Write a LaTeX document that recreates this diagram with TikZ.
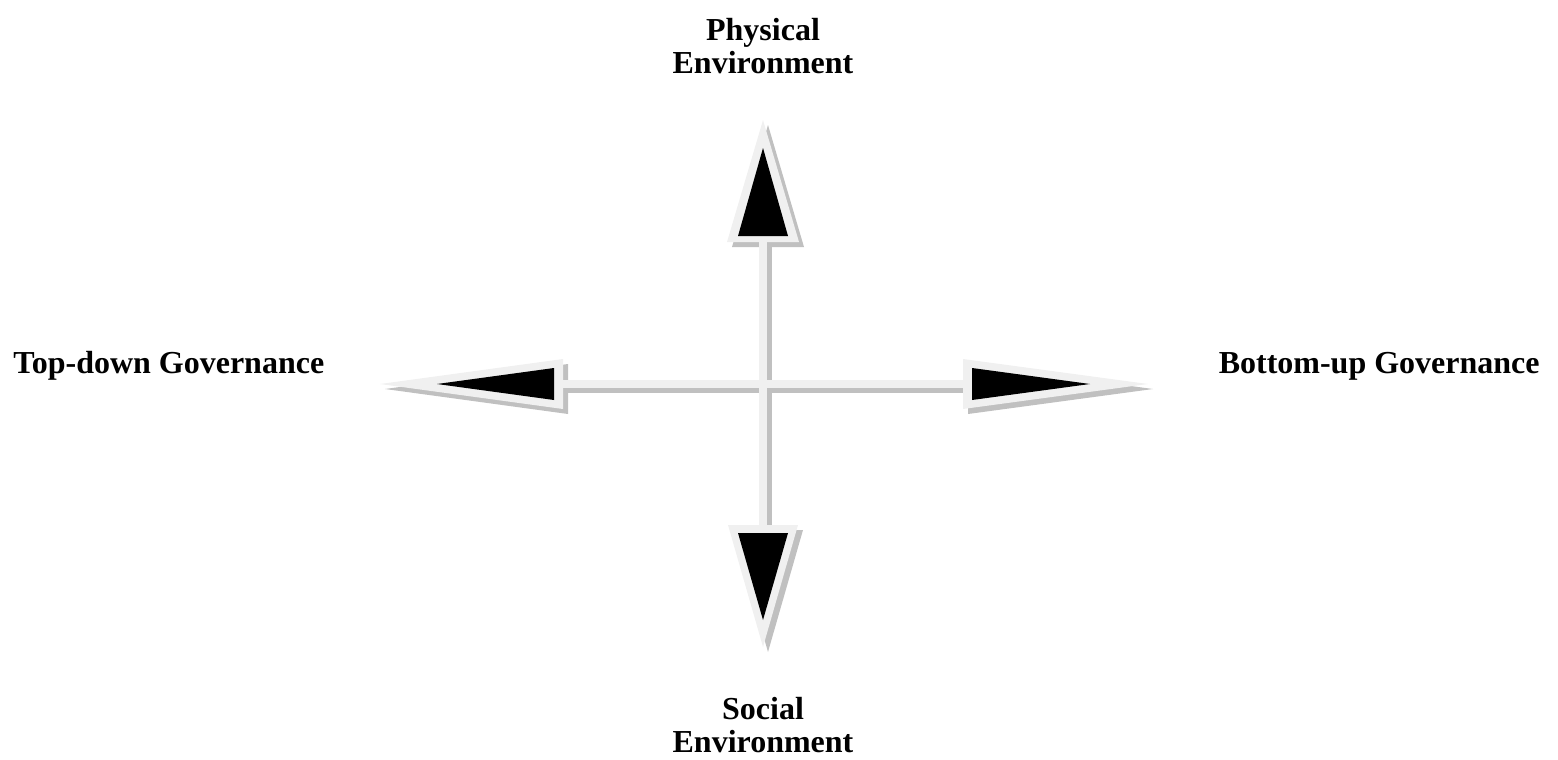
\documentclass[tikz,border=0pt]{standalone}
\usepackage{fontspec}
\setmainfont{Liberation Serif}
\usetikzlibrary{calc}
\definecolor{ptrlight}{RGB}{240,240,240}
\definecolor{ptrshade}{RGB}{192,192,192}

\begin{document}
\begin{tikzpicture}[x=0.5pt, y=-0.5pt,
  every node/.style={font=\fontsize{16}{16.5}\selectfont\bfseries, inner sep=0pt},
  axislab/.style={align=center},
  shadowfill/.style={fill=ptrshade},
  lightfill/.style={fill=ptrlight},
  headfill/.style={fill=black}
]
  \useasboundingbox (0,0) rectangle (1558,760);
  \coordinate (c) at (763,384);

  % labels
  \node[axislab] (phys) at (763,46) {Physical\\Environment};
  \node[axislab] (social) at (763,725) {Social\\Environment};
  \node[anchor=base west] (topdown) at (13,373) {Top-down Governance};
  \node[anchor=base east] (bottomup) at (1540,373) {Bottom-up Governance};

  % angle / shaft length / head length / head half width / inner base inset / inner tip inset / inner half width
  \def\pointers{90/142/122/36/6/28/25, 270/141/122/35/8/27/25, 180/200/183/25/9/57/16, 0/200/185/25/9/58/16}

  % shadows
  \foreach \ang/\b/\L/\W/\bi/\ti/\w in \pointers {
    \begin{scope}[shift={(c)}, shift={(5,5)}, rotate=\ang]
      \fill[shadowfill] (0,-4) rectangle (\b,4);
      \fill[shadowfill] (\b,-\W) -- (\b+\L,0) -- (\b,\W) -- cycle;
    \end{scope}
  }
  % light outlines
  \foreach \ang/\b/\L/\W/\bi/\ti/\w in \pointers {
    \begin{scope}[shift={(c)}, rotate=\ang]
      \fill[lightfill] (0,-4) rectangle (\b,4);
      \fill[lightfill] (\b,-\W) -- (\b+\L,0) -- (\b,\W) -- cycle;
    \end{scope}
  }
  % black heads
  \foreach \ang/\b/\L/\W/\bi/\ti/\w in \pointers {
    \begin{scope}[shift={(c)}, rotate=\ang]
      \fill[headfill] (\b+\bi,-\w) -- (\b+\L-\ti,0) -- (\b+\bi,\w) -- cycle;
    \end{scope}
  }
\end{tikzpicture}
\end{document}
